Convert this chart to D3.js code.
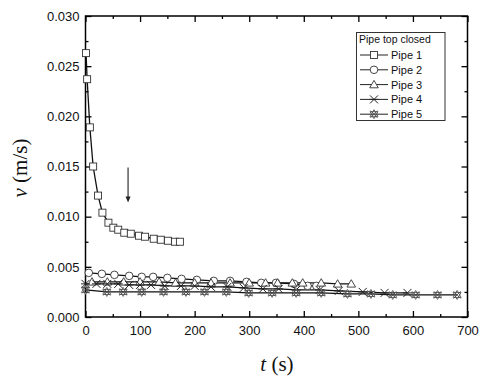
<!DOCTYPE html>
<html><head><meta charset="utf-8">
<script src="https://cdn.jsdelivr.net/npm/d3@7"></script>
<style>body{margin:0;background:#fff}svg{display:block}</style>
</head><body>
<svg id="c" width="484" height="383"></svg>
<script>
const seriesNames = ["Pipe 1","Pipe 2","Pipe 3","Pipe 4","Pipe 5"];
const legendTitle = "Pipe top closed";
const xTicks = [0,100,200,300,400,500,600,700];
const yTicks = [0.000,0.005,0.010,0.015,0.020,0.025,0.030];

const pipe1T = [1,3,8,14,23,31,42,51,60,71,83,98,109,125,138,151,164,173];
const pipe1V = [0.0263,0.0237,0.0189,0.0150,0.0121,0.0104,0.0094,0.0089,0.0087,0.0084,0.0083,0.0081,0.0080,0.0078,0.0077,0.0076,0.0075,0.0075];

const pipe2T = [6,30,53,80,103,124,150,176,204,235,265,295,322,349,382,407,423];
const pipe2V = [0.0044,0.0043,0.0042,0.0041,0.0040,0.0040,0.0039,0.0038,0.0037,0.0036,0.0036,0.0035,0.0034,0.0034,0.0033,0.0031,0.0031];

const pipe3T = [12,40,70,100,135,165,200,230,265,300,330,352,379,398,432,462,487];
const pipe3V = [0.0035,0.0035,0.0035,0.0035,0.0035,0.0034,0.0034,0.0034,0.0034,0.0034,0.0034,0.0034,0.0034,0.0034,0.0034,0.0033,0.0033];

const pipe4T = [0,20,40,60,80,100,120,145,175,200,230,260,290,325,354,386,429,464,508,548,590];
const pipe4V = [0.0033,0.0033,0.0033,0.0033,0.0032,0.0032,0.0032,0.0031,0.0031,0.0031,0.0030,0.0030,0.0029,0.0028,0.0028,0.0027,0.0027,0.0026,0.0025,0.0024,0.0024];

const pipe5T = [0,39,69,103,143,184,218,258,299,342,386,432,480,523,563,605,645,681];
const pipe5V = [0.0027,0.0025,0.0025,0.0025,0.0025,0.0025,0.0025,0.0025,0.0024,0.0024,0.0024,0.0024,0.0023,0.0023,0.0022,0.0022,0.0022,0.0022];

const seriesT = [pipe1T,pipe2T,pipe3T,pipe4T,pipe5T];
const seriesV = [pipe1V,pipe2V,pipe3V,pipe4V,pipe5V];
const markerKinds = ["square","circle","triangle","star","hexagram"];

const svg = d3.select("#c");
const L=85.5, R=467.5, T=16, B=317;
const x = d3.scaleLinear().domain([0,700]).range([L,R]);
const y = d3.scaleLinear().domain([0,0.03]).range([B,T]);

const tickFont = "'Liberation Sans', Arial, sans-serif";
const minorX = d3.range(50,700,100), minorY = d3.range(0.0025,0.03,0.005);
const noLabel = () => "";

function axis(make, scale, tx, ty, major, minor, fmt){
  const g = svg.append("g").attr("transform",`translate(${tx},${ty})`);
  g.append("g").call(make(scale).tickValues(major).tickSizeInner(-6).tickSizeOuter(0).tickFormat(fmt || noLabel));
  g.append("g").call(make(scale).tickValues(minor).tickSizeInner(-3).tickSizeOuter(0).tickFormat(noLabel));
  g.selectAll(".domain").remove();
  g.selectAll("line").attr("stroke","#000").attr("stroke-width",1.3);
  g.selectAll("text").filter(function(){return this.textContent==="";}).remove();
  g.selectAll("text").attr("font-family",tickFont).attr("font-size",13).attr("fill","#111");
  return g;
}
const gb = axis(d3.axisBottom, x, 0, B, xTicks, minorX, d3.format("d"));
gb.selectAll("text").attr("y",9);
axis(d3.axisTop, x, 0, T, xTicks, minorX, null);
const gl = axis(d3.axisLeft, y, L, 0, yTicks, minorY, d3.format(".3f"));
gl.selectAll("text").attr("x",-6);
axis(d3.axisRight, y, R, 0, yTicks, minorY, null);

svg.append("rect").attr("x",L).attr("y",T).attr("width",R-L).attr("height",B-T)
  .attr("fill","none").attr("stroke","#000").attr("stroke-width",1.5);

function drawMarker(g, kind, cx, cy){
  const st = {fill:"#fff", stroke:"#333", "stroke-width":0.9};
  let el;
  if(kind==="square") el = g.append("rect").attr("x",cx-3.5).attr("y",cy-3.5).attr("width",7).attr("height",7);
  else if(kind==="circle") el = g.append("circle").attr("cx",cx).attr("cy",cy).attr("r",3.8);
  else if(kind==="triangle") el = g.append("path").attr("d",`M${cx},${cy-4.2}L${cx+4.3},${cy+3.2}L${cx-4.3},${cy+3.2}Z`);
  else if(kind==="star") { el = g.append("path").attr("d",`M${cx-4},${cy-4}L${cx+4},${cy+4}M${cx-4},${cy+4}L${cx+4},${cy-4}M${cx-4.5},${cy}L${cx+4.5},${cy}`); st.fill="none"; st.stroke="#222"; st["stroke-width"]=1; }
  else if(kind==="hexagram") {
    el = g.append("path").attr("d",`M${cx},${cy-4.5}L${cx+4},${cy+2.5}L${cx-4},${cy+2.5}Z M${cx},${cy+4.5}L${cx+4},${cy-2.5}L${cx-4},${cy-2.5}Z M${cx-3.6},${cy-3.6}L${cx+3.6},${cy+3.6}M${cx-3.6},${cy+3.6}L${cx+3.6},${cy-3.6}`);
    st.fill="#fff"; st.stroke="#444"; st["stroke-width"]=0.8;
  }
  Object.entries(st).forEach(([k,v])=>el.attr(k,v));
}

const line = d3.line().x(d=>x(d[0])).y(d=>y(d[1]));
const plot = svg.append("g");
seriesT.forEach((ts,i)=>{
  const pts = ts.map((t,j)=>[t,seriesV[i][j]]);
  plot.append("path").attr("d",line(pts)).attr("fill","none").attr("stroke","#111").attr("stroke-width",1.3);
});
seriesT.forEach((ts,i)=>{
  const g = plot.append("g");
  ts.forEach((t,j)=>drawMarker(g, markerKinds[i], x(t), y(seriesV[i][j])));
});

// arrow
const ax = x(78);
svg.append("line").attr("x1",ax).attr("x2",ax).attr("y1",y(0.0149)).attr("y2",y(0.0118))
  .attr("stroke","#333").attr("stroke-width",1.2);
svg.append("path").attr("d",`M${ax-2.5},${y(0.0120)}L${ax+2.5},${y(0.0120)}L${ax},${y(0.0114)}Z`).attr("fill","#222");

// legend
const lg = svg.append("g");
lg.append("rect").attr("x",356.5).attr("y",32.5).attr("width",88.5).attr("height",88)
  .attr("fill","#fff").attr("stroke","#333").attr("stroke-width",1);
lg.append("text").attr("x",359).attr("y",43).text(legendTitle)
  .attr("font-family",tickFont).attr("font-size",10.5).attr("fill","#111");
seriesNames.forEach((n,i)=>{
  const yy = 55 + i*14.8;
  lg.append("line").attr("x1",360).attr("x2",388).attr("y1",yy).attr("y2",yy).attr("stroke","#222").attr("stroke-width",1);
  drawMarker(lg, markerKinds[i], 374, yy);
  lg.append("text").attr("x",391).attr("y",yy+4).text(n)
    .attr("font-family",tickFont).attr("font-size",11).attr("fill","#111");
});

const serif = "'Liberation Serif','Times New Roman',serif";
const xt = svg.append("text").attr("x",277).attr("y",371).attr("text-anchor","middle")
  .attr("font-family",serif).attr("font-size",21).attr("fill","#111");
xt.append("tspan").attr("font-style","italic").text("t");
xt.append("tspan").text(" (s)");
const yt = svg.append("text").attr("transform","translate(27,168) rotate(-90)").attr("text-anchor","middle")
  .attr("font-family",serif).attr("font-size",21).attr("fill","#111");
yt.append("tspan").attr("font-style","italic").text("v");
yt.append("tspan").text(" (m/s)");
</script>
</body></html>
